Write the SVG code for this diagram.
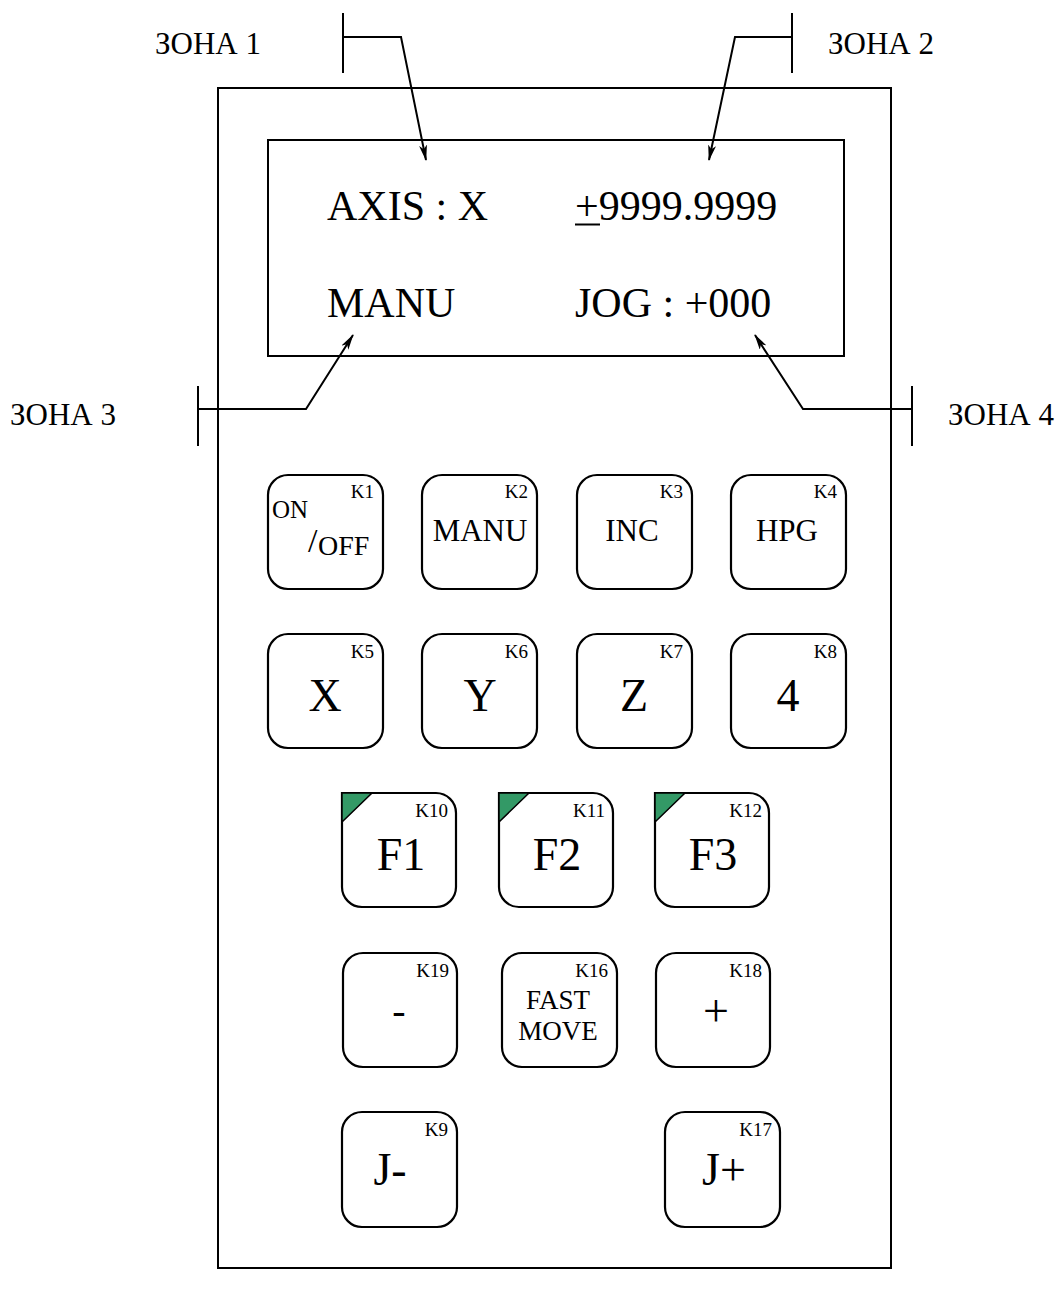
<svg xmlns="http://www.w3.org/2000/svg" width="1061" height="1289" viewBox="0 0 1061 1289">
<style>
text{font-family:"Liberation Serif","Times New Roman",serif;fill:#000}
.frame{fill:none;stroke:#000;stroke-width:2}
.key{fill:#fff;stroke:#000;stroke-width:2.2}
.kl{font-size:19px;text-anchor:end}
.lbl{text-anchor:middle}
.zone{font-size:31px}
.lcd{font-size:42px}
.ln{fill:none;stroke:#000;stroke-width:2}
.tri{fill:#339966;stroke:#000;stroke-width:1.5}
</style>
<defs>
<marker id="arr" viewBox="0 0 16 8" refX="15" refY="4" markerWidth="16" markerHeight="8" markerUnits="userSpaceOnUse" orient="auto">
<path d="M0,0 L16,4 L0,8 L4,4 z" fill="#000"/>
</marker>
</defs>
<rect width="1061" height="1289" fill="#fff"/>
<g id="body">
<rect class="frame" x="218" y="88" width="673" height="1180"/>
</g>
<g id="lcd">
<rect class="frame" x="268" y="140" width="576" height="216"/>
<text class="lcd" x="327" y="220">AXIS : X</text>
<text class="lcd" x="575" y="220">+9999.9999</text>
<line x1="575" y1="224.5" x2="600" y2="224.5" stroke="#000" stroke-width="2"/>
<text class="lcd" x="327" y="317">MANU</text>
<text class="lcd" x="575" y="317">JOG : +000</text>
</g>
<g id="connectors">
<line class="ln" x1="343" y1="13" x2="343" y2="73"/>
<polyline class="ln" points="343,37 401,37 426,160" marker-end="url(#arr)"/>
<line class="ln" x1="792" y1="13" x2="792" y2="73"/>
<polyline class="ln" points="792,37 735,37 709,160" marker-end="url(#arr)"/>
<line class="ln" x1="198" y1="386" x2="198" y2="446"/>
<polyline class="ln" points="198,409 306,409 353,335" marker-end="url(#arr)"/>
<line class="ln" x1="912" y1="386" x2="912" y2="446"/>
<polyline class="ln" points="912,409 803,409 755,335" marker-end="url(#arr)"/>
</g>
<g id="zone-labels">
<text class="zone" x="155" y="54">ЗОНА 1</text>
<text class="zone" x="828" y="54">ЗОНА 2</text>
<text class="zone" x="10" y="425">ЗОНА 3</text>
<text class="zone" x="948" y="425">ЗОНА 4</text>
</g>
<g id="K1">
<rect class="key" x="268" y="475" width="115" height="114" rx="20"/>
<text class="kl" x="374" y="498">K1</text>
<text x="272" y="518" font-size="25">ON</text>
<text x="308" y="552" font-size="34">/</text>
<text x="318" y="555" font-size="28">OFF</text>
</g>
<g id="K2">
<rect class="key" x="422" y="475" width="115" height="114" rx="20"/>
<text class="kl" x="528" y="498">K2</text>
<text class="lbl" x="480" y="541" font-size="31">MANU</text>
</g>
<g id="K3">
<rect class="key" x="577" y="475" width="115" height="114" rx="20"/>
<text class="kl" x="683" y="498">K3</text>
<text class="lbl" x="632" y="541" font-size="31">INC</text>
</g>
<g id="K4">
<rect class="key" x="731" y="475" width="115" height="114" rx="20"/>
<text class="kl" x="837" y="498">K4</text>
<text class="lbl" x="787" y="541" font-size="31">HPG</text>
</g>
<g id="K5">
<rect class="key" x="268" y="634" width="115" height="114" rx="20"/>
<text class="kl" x="374" y="658">K5</text>
<text class="lbl" x="325" y="711" font-size="46">X</text>
</g>
<g id="K6">
<rect class="key" x="422" y="634" width="115" height="114" rx="20"/>
<text class="kl" x="528" y="658">K6</text>
<text class="lbl" x="480" y="711" font-size="46">Y</text>
</g>
<g id="K7">
<rect class="key" x="577" y="634" width="115" height="114" rx="20"/>
<text class="kl" x="683" y="658">K7</text>
<text class="lbl" x="634" y="711" font-size="46">Z</text>
</g>
<g id="K8">
<rect class="key" x="731" y="634" width="115" height="114" rx="20"/>
<text class="kl" x="837" y="658">K8</text>
<text class="lbl" x="788" y="711" font-size="46">4</text>
</g>
<g id="K10">
<path class="key" d="M342,793 H436 A20,20 0 0 1 456,813 V887 A20,20 0 0 1 436,907 H362 A20,20 0 0 1 342,887 Z"/>
<polygon class="tri" points="342,793 372,793 342,822"/>
<text class="kl" x="448" y="817">K10</text>
<text class="lbl" x="401" y="870" font-size="46">F1</text>
</g>
<g id="K11">
<path class="key" d="M499,793 H593 A20,20 0 0 1 613,813 V887 A20,20 0 0 1 593,907 H519 A20,20 0 0 1 499,887 Z"/>
<polygon class="tri" points="499,793 529,793 499,822"/>
<text class="kl" x="605" y="817">K11</text>
<text class="lbl" x="557" y="870" font-size="46">F2</text>
</g>
<g id="K12">
<path class="key" d="M655,793 H749 A20,20 0 0 1 769,813 V887 A20,20 0 0 1 749,907 H675 A20,20 0 0 1 655,887 Z"/>
<polygon class="tri" points="655,793 685,793 655,822"/>
<text class="kl" x="762" y="817">K12</text>
<text class="lbl" x="713" y="870" font-size="46">F3</text>
</g>
<g id="K19">
<rect class="key" x="343" y="953" width="114" height="114" rx="20"/>
<text class="kl" x="449" y="977">K19</text>
<text class="lbl" x="399" y="1024" font-size="40">-</text>
</g>
<g id="K16">
<rect class="key" x="502" y="953" width="115" height="114" rx="20"/>
<text class="kl" x="608" y="977">K16</text>
<text class="lbl" x="558" y="1009" font-size="27">FAST</text>
<text class="lbl" x="558" y="1040" font-size="27">MOVE</text>
</g>
<g id="K18">
<rect class="key" x="656" y="953" width="114" height="114" rx="20"/>
<text class="kl" x="762" y="977">K18</text>
<text class="lbl" x="716" y="1026" font-size="46">+</text>
</g>
<g id="K9">
<rect class="key" x="342" y="1112" width="115" height="115" rx="20"/>
<text class="kl" x="448" y="1136">K9</text>
<text class="lbl" x="390" y="1185" font-size="46">J-</text>
</g>
<g id="K17">
<rect class="key" x="665" y="1112" width="115" height="115" rx="20"/>
<text class="kl" x="772" y="1136">K17</text>
<text class="lbl" x="724" y="1185" font-size="46">J+</text>
</g>
</svg>
